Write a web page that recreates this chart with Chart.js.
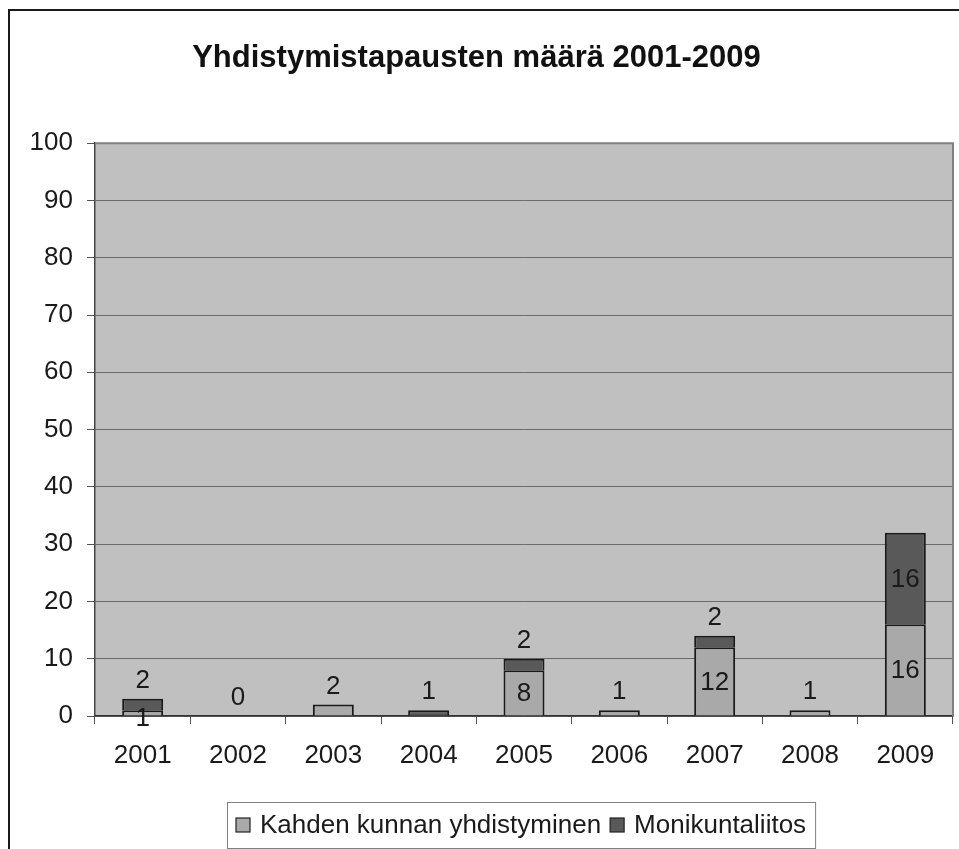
<!DOCTYPE html>
<html>
<head>
<meta charset="utf-8">
<script src="https://cdn.jsdelivr.net/npm/chart.js@4.4.1/dist/chart.umd.min.js"></script>
<style>
html,body{margin:0;padding:0;background:#fff;}
#wrap{width:959px;height:849px;}
</style>
</head>
<body>
<div id="wrap"><canvas id="c" width="959" height="849"></canvas></div>
<script>
// data (null = empty cell, no label)
const years=["2001","2002","2003","2004","2005","2006","2007","2008","2009"];
const kahden=[1,0,2,null,8,1,12,1,16];
const moni=[2,null,null,1,2,null,2,null,16];
const seriesNames=["Kahden kunnan yhdistyminen","Monikuntaliitos"];
const yMax=100, yStep=10;

const FONT="'Liberation Sans', Arial, sans-serif";
Chart.defaults.font.family=FONT;
Chart.defaults.color="#1a1a1a";

const colors=["#a9a9a9","#595959"];

// plot background + frame + legend
const decor={
id:"decor",
beforeDraw(chart){
const {ctx,chartArea:a}=chart;
ctx.save();
ctx.fillStyle="#fff";
ctx.fillRect(0,0,chart.width,chart.height);
ctx.fillStyle="#c0c0c0";
ctx.fillRect(a.left,a.top,a.right-a.left,a.bottom-a.top);
ctx.restore();
},
afterDraw(chart){
const {ctx,chartArea:a}=chart;
ctx.save();
// plot border top/right
ctx.strokeStyle="#808080";
ctx.lineWidth=2;
ctx.beginPath();
ctx.moveTo(a.left,a.top);
ctx.lineTo(a.right,a.top);
ctx.lineTo(a.right,a.bottom);
ctx.stroke();
// outer frame
ctx.strokeStyle="#1a1a1a";
ctx.lineWidth=2;
ctx.beginPath();
ctx.moveTo(9,chart.height+5);
ctx.lineTo(9,10);
ctx.lineTo(chart.width+5,10);
ctx.stroke();
// legend
ctx.font="26px "+FONT;
ctx.textBaseline="middle";
let x=227, top=802, h=46, cy=top+h/2;
let widths=seriesNames.map(s=>ctx.measureText(s).width);
let total=9;
widths.forEach(w=>{total+=14+10+w+9;});
ctx.fillStyle="#fff";
ctx.fillRect(x,top,total,h);
ctx.strokeStyle="#808080";
ctx.lineWidth=1;
ctx.strokeRect(x+0.5,top+0.5,total,h);
let cx=x+9;
seriesNames.forEach((s,i)=>{
ctx.fillStyle=colors[i];
ctx.fillRect(cx,cy-7,14,14);
ctx.strokeStyle="#222";
ctx.lineWidth=1.2;
ctx.strokeRect(cx,cy-7,14,14);
ctx.fillStyle="#1a1a1a";
ctx.fillText(s,cx+24,cy+1);
cx+=14+10+widths[i]+9;
});
ctx.restore();
}
};

// value labels
const labels={
id:"vlabels",
afterDatasetsDraw(chart){
const ctx=chart.ctx;
ctx.save();
ctx.font="26px "+FONT;
ctx.fillStyle="#1a1a1a";
ctx.textAlign="center";
ctx.textBaseline="middle";
chart.data.datasets.forEach((ds,di)=>{
const meta=chart.getDatasetMeta(di);
ds.data.forEach((v,i)=>{
if(v===null) return;
const bar=meta.data[i];
let isTop=true;
for(let k=di+1;k<chart.data.datasets.length;k++){
const w=chart.data.datasets[k].data[i];
if(w) isTop=false;
}
const hgt=Math.abs(bar.base-bar.y);
let y;
if(hgt<30 && isTop) y=bar.y-19;
else if(hgt<30) y=(bar.y+bar.base)/2+5;
else y=(bar.y+bar.base)/2;
ctx.fillText(String(v),bar.x,y+1);
});
});
ctx.restore();
}
};

new Chart(document.getElementById("c"),{
type:"bar",
data:{
labels:years,
datasets:[
{label:seriesNames[0],data:kahden,backgroundColor:colors[0],borderColor:"#1a1a1a",borderWidth:2,barPercentage:0.43,categoryPercentage:1},
{label:seriesNames[1],data:moni,backgroundColor:colors[1],borderColor:"#1a1a1a",borderWidth:2,barPercentage:0.43,categoryPercentage:1}
]
},
options:{
responsive:false,
animation:false,
devicePixelRatio:1,
layout:{padding:{left:0,right:6,top:0,bottom:0}},
plugins:{
legend:{display:false},
tooltip:{enabled:false},
title:{display:true,text:"Yhdistymistapausten määrä 2001-2009",font:{size:31,weight:"bold"},color:"#111",padding:{top:40,bottom:66}}
},
scales:{
x:{
stacked:true,
afterFit(s){s.height=133;},
grid:{drawOnChartArea:false,drawTicks:true,tickLength:8,color:"#555",offset:true},
border:{color:"#333",width:1.5},
ticks:{font:{size:26},color:"#1a1a1a",padding:16}
},
y:{
stacked:true,
min:0,max:yMax,
afterFit(s){s.width=95;},
grid:{color:"#6a6a6a",lineWidth:1,tickLength:8,tickColor:"#555"},
border:{color:"#444",width:1.5},
ticks:{stepSize:yStep,font:{size:26},color:"#1a1a1a",padding:14}
}
}
},
plugins:[decor,labels]
});
</script>
</body>
</html>
